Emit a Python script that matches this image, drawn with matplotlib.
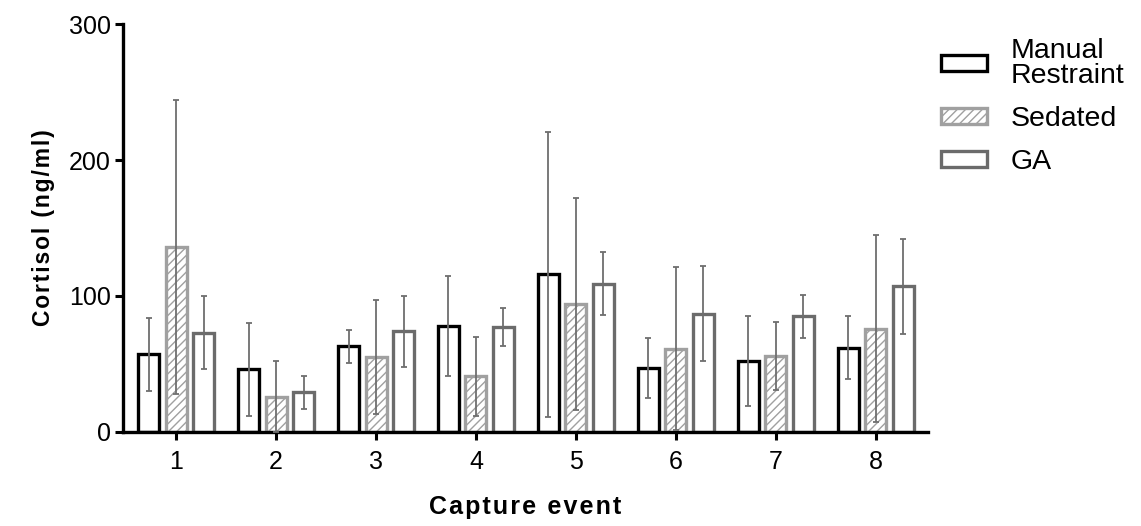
import matplotlib
matplotlib.use("Agg")
import matplotlib.pyplot as plt
import numpy as np

plt.rcParams['font.family'] = ['Liberation Sans', 'DejaVu Sans']
plt.rcParams['hatch.linewidth'] = 1.0

events = [1, 2, 3, 4, 5, 6, 7, 8]
manual = [57, 46, 63, 78, 116, 47, 52, 62]
manual_err = [27, 34, 12, 37, 105, 22, 33, 23]
sedated = [136, 26, 55, 41, 94, 61, 56, 76]
sedated_err = [108, 26, 42, 29, 78, 60, 25, 69]
ga = [73, 29, 74, 77, 109, 87, 85, 107]
ga_err = [27, 12, 26, 14, 23, 35, 16, 35]

series = [
    ("Manual\nRestraint", manual, manual_err, "#000000", None),
    ("Sedated", sedated, sedated_err, "#a0a0a0", "////"),
    ("GA", ga, ga_err, "#6b6b6b", None),
]

HAIR = "\u200a"


def spaced(s):
    # slight letter spacing like the original export
    return HAIR.join(s)


fig = plt.figure(figsize=(11.41, 5.26), dpi=100)
ax = fig.add_axes([0.108, 0.179, 0.705, 0.775])

x = np.array(events, dtype=float)
width = 0.21
offsets = [-0.275, 0.0, 0.275]

for (label, vals, errs, col, hatch), off in zip(series, offsets):
    ax.bar(x + off, vals, width, facecolor="white", edgecolor=col,
           linewidth=2.4, hatch=hatch, label=label, zorder=2)
    ax.errorbar(x + off, vals, yerr=errs, fmt="none", ecolor="#6e6e6e",
                elinewidth=1.3, capsize=2.5, capthick=1.3, zorder=3)

ax.set_xlim(0.47, 8.52)
ax.set_ylim(0, 300)
ax.set_yticks([0, 100, 200, 300])
ax.set_xticks(events)
ax.tick_params(axis="both", labelsize=18, width=2.2, length=6, direction="out")
ax.tick_params(axis="x", pad=7)
ax.tick_params(axis="y", pad=3)
for s in ["top", "right"]:
    ax.spines[s].set_visible(False)
for s in ["left", "bottom"]:
    ax.spines[s].set_linewidth(2.4)

ax.set_ylabel(spaced("Cortisol (ng/ml)"), fontsize=16.5, fontweight="bold", labelpad=10)
ax.set_xlabel(spaced("Capture event"), fontsize=18, fontweight="bold", labelpad=15)

leg = ax.legend(loc="upper left", bbox_to_anchor=(0.825, 0.928),
                bbox_transform=fig.transFigure, frameon=False, fontsize=20.5,
                handlelength=1.62, handleheight=0.48, labelspacing=0.6,
                handletextpad=0.8, borderaxespad=0, borderpad=0)
for t in leg.get_texts():
    t.set_linespacing(0.95)

fig.savefig("out.png", dpi=100)
